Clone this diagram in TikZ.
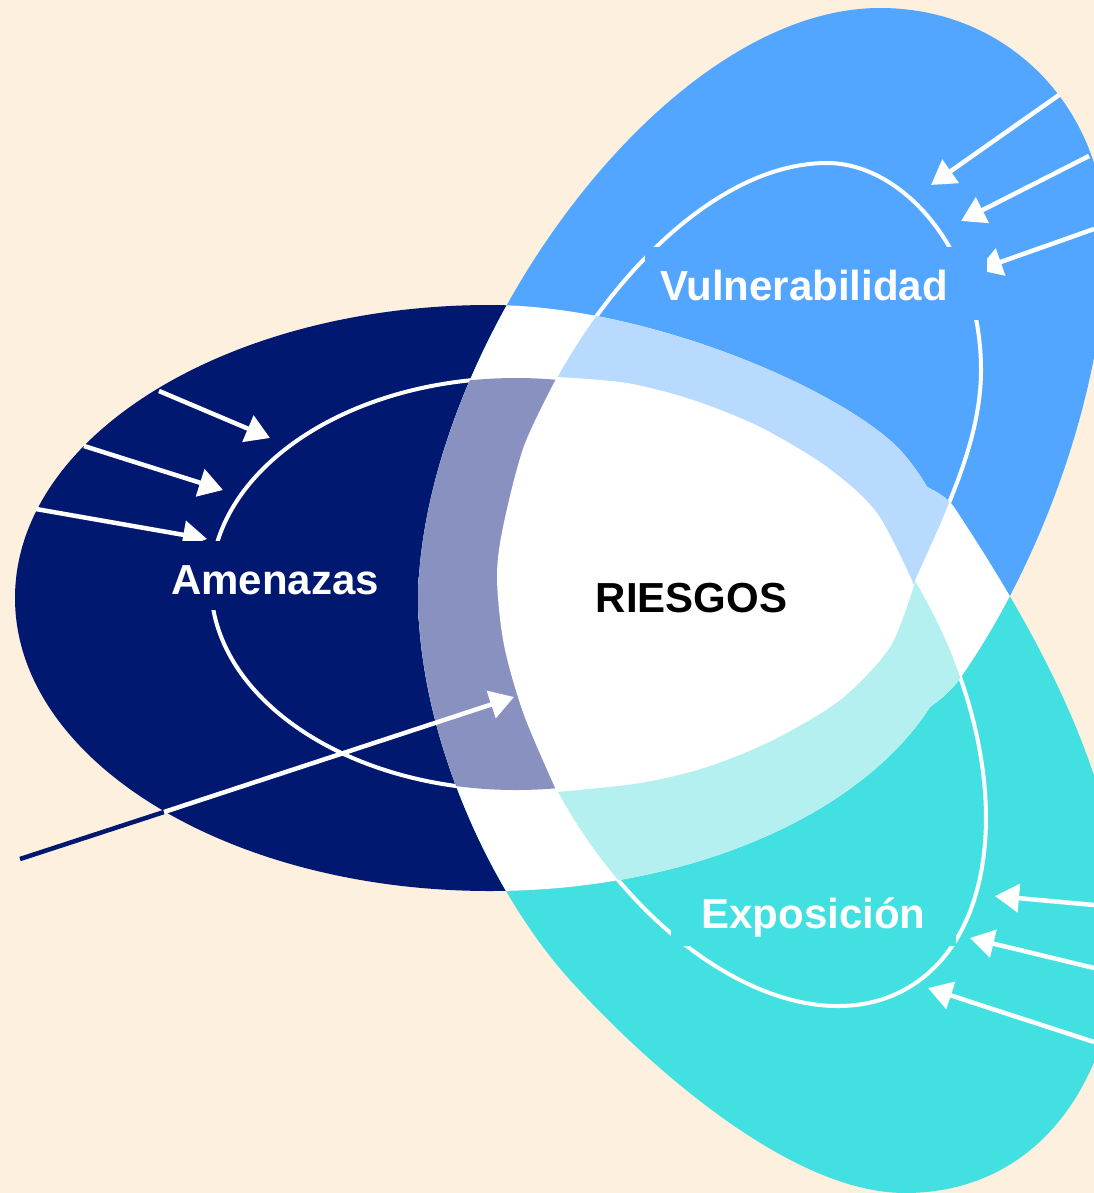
\documentclass[tikz,border=0pt]{standalone}
\usepackage{fontspec}
\setmainfont{Liberation Sans}
\usetikzlibrary{arrows.meta}
\definecolor{cream}{RGB}{253,240,223}
\definecolor{navyc}{RGB}{0,24,112}
\definecolor{bluec}{RGB}{82,166,255}
\definecolor{cyanc}{RGB}{67,224,226}
\definecolor{palec}{RGB}{136,145,192}
\definecolor{lblue}{RGB}{184,218,255}
\definecolor{lcyan}{RGB}{180,240,240}
% outer petals
\def\Nout{(490,305) arc[start angle=270, end angle=90, x radius=475, y radius=293] .. controls (751,891) and (963,760.7) .. (963,600) .. controls (963,540) and (922.6,469.8) .. (893,443) .. controls (826.4,382.7) and (640,305) .. (490,305) -- cycle}
\def\Bout{(418,605) .. controls (418,355) and (660,8) .. (880,8) .. controls (1010,8) and (1106,110) .. (1106,240) .. controls (1106,380) and (1046.5,554) .. (961,677) .. controls (875.5,800) and (418,805) .. (418,605) -- cycle}
\def\Cout{(418,592) .. controls (418,742) and (496.3,898.6) .. (570,980) .. controls (637,1054) and (785,1193) .. (905,1193) .. controls (1035,1193) and (1120,1085) .. (1120,920) .. controls (1120,770) and (1020,607.2) .. (954,507) .. controls (910,440.2) and (418,392) .. (418,592) -- cycle}
% inner rings
\def\Nin{(516,584) ellipse [x radius=305, y radius=206]}
\def\Cin{(741.5,695.4) ellipse [x radius=336.5, y radius=207.3, rotate=-60.74]}
\def\Bin{(497,578) .. controls (497,413) and (667,163) .. (827,163) .. controls (902,163) and (981,250) .. (981,370) .. controls (981,440) and (946.8,509.2) .. (914,582) .. controls (864.8,691.2) and (497,728) .. (497,578) -- cycle}
% centre (RIESGOS)
\def\Ctr{plot[smooth] coordinates {(557,377) (627,383) (693,400) (760,427) (827,467) (877,513) (914,585)} -- plot[smooth] coordinates {(914,585) (890,647) (840,700) (773,740) (707,767) (640,783) (557,792)} -- plot[smooth] coordinates {(557,792) (524,715) (504,645) (497,578) (503,527) (524,446) (557,377)} -- cycle}
\tikzset{
 arr/.style={draw=white, line width=4.5pt, -{Triangle[length=24pt,width=28pt]}},
 ring/.style={draw=white, line width=4pt},
 lbl/.style={font=\fontsize{42}{48}\selectfont\bfseries, anchor=base, inner sep=0pt},
}
\begin{document}
\begin{tikzpicture}[x=1pt,y=-1pt]
\useasboundingbox (0,0) rectangle (1094,1193);
\clip (0,0) rectangle (1094,1193);
\fill[cream] (0,0) rectangle (1094,1193);
% outer petals
\fill[navyc] \Nout;
\fill[bluec] \Bout;
\fill[cyanc] \Cout;
% overlaps of outer petals
\begin{scope}\clip \Nout; \fill[white] \Bout; \fill[white] \Cout; \end{scope}
\begin{scope}\clip \Bout; \fill[white] \Cout; \end{scope}
% inner rings
\draw[ring] \Nin;
\draw[ring] \Bin;
\draw[ring] \Cin;
% tinted bands
\begin{scope}\clip \Cin; \fill[lcyan] \Nout; \fill[lcyan] \Bout; \end{scope}
\begin{scope}\clip \Bin; \fill[lblue] \Nout; \fill[lblue] \Cout; \end{scope}
\begin{scope}\clip \Nin; \fill[palec] \Bout; \fill[palec] \Cout; \end{scope}
% centre
\fill[white] \Ctr;
% arrow end points
\coordinate (na1s) at (159,391); \coordinate (na1e) at (270,438);
\coordinate (na2s) at (84,446);  \coordinate (na2e) at (223,490);
\coordinate (na3s) at (36,509);  \coordinate (na3e) at (207,539);
\coordinate (ls) at (20,859); \coordinate (lm) at (164,812); \coordinate (le) at (514,697);
\coordinate (vb1s) at (1059,95);  \coordinate (vb1e) at (931,185);
\coordinate (vb2s) at (1089,156); \coordinate (vb2e) at (961,221);
\coordinate (vb3s) at (1094,229); \coordinate (vb3e) at (978,270);
\coordinate (ex1s) at (1094,905);  \coordinate (ex1e) at (995,896);
\coordinate (ex2s) at (1094,968);  \coordinate (ex2e) at (970,938);
\coordinate (ex3s) at (1094,1042); \coordinate (ex3e) at (928,988);
\draw[arr] (na1s) -- (na1e);
\draw[arr] (na2s) -- (na2e);
\draw[arr] (na3s) -- (na3e);
\draw[navyc, line width=4.5pt] (ls) -- (lm);
\draw[arr] (lm) -- (le);
\draw[arr] (vb1s) -- (vb1e);
\draw[arr] (vb2s) -- (vb2e);
\draw[arr] (vb3s) -- (vb3e);
\draw[arr] (ex1s) -- (ex1e);
\draw[arr] (ex2s) -- (ex2e);
\draw[arr] (ex3s) -- (ex3e);
% label backgrounds
\node[fill=navyc, minimum width=250pt, minimum height=69pt, inner sep=0pt] (amenbox) at (275,575.5) {};
\node[fill=bluec, minimum width=342pt, minimum height=73pt, inner sep=0pt] (vulnbox) at (816,283.5) {};
\node[fill=cyanc, minimum width=285pt, minimum height=69pt, inner sep=0pt] (expobox) at (813.5,911.5) {};
% labels
\node[lbl, text=white] (amen) at (275,594) {Amenazas};
\node[lbl, text=white] (vuln) at (804,300) {Vulnerabilidad};
\node[lbl, text=white] (expo) at (813.5,928) {Exposición};
\node[lbl, text=black] (ries) at (691.5,612) {RIESGOS};
\end{tikzpicture}
\end{document}
